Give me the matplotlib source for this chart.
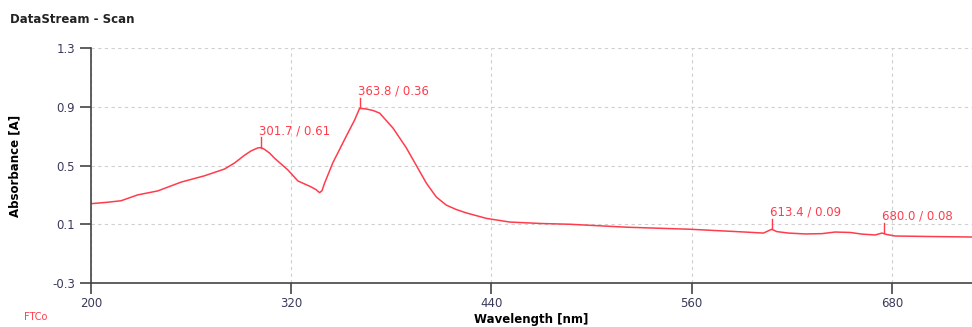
import numpy as np
import matplotlib
matplotlib.use('Agg')
import matplotlib.pyplot as plt

# spectrum
wl = [200, 210, 218, 228, 240, 254, 268, 280, 286, 292, 296, 300, 302, 304, 307,
      310, 318, 324, 332, 335, 337, 338.5, 340, 345, 353, 358, 361, 365, 369, 373,
      381, 389, 395, 401, 407, 413, 419, 425, 437, 451, 470, 487, 521, 559, 578,
      592, 603, 608, 611, 618, 628, 638, 646, 655, 662, 670, 674, 677, 682, 700,
      728]
absb = [0.24, 0.25, 0.26, 0.30, 0.327, 0.387, 0.43, 0.476, 0.517, 0.57, 0.60,
        0.62, 0.622, 0.61, 0.585, 0.55, 0.47, 0.395, 0.354, 0.335, 0.315, 0.33,
        0.38, 0.52, 0.70, 0.81, 0.89, 0.885, 0.875, 0.857, 0.755, 0.62, 0.50, 0.38,
        0.285, 0.23, 0.20, 0.177, 0.14, 0.115, 0.105, 0.10, 0.08, 0.066, 0.055,
        0.047, 0.04, 0.066, 0.05, 0.04, 0.034, 0.036, 0.047, 0.044, 0.033, 0.027,
        0.04, 0.03, 0.02, 0.017, 0.013]

peak_wl = [301.7, 361, 608, 675]
peak_abs = [0.622, 0.89, 0.066, 0.04]
peak_txt = ['301.7 / 0.61', '363.8 / 0.36', '613.4 / 0.09', '680.0 / 0.08']

xticks = [200, 320, 440, 560, 680]
yticks = [-0.3, 0.1, 0.5, 0.9, 1.3]

red = '#ff3c4c'
fig = plt.figure(figsize=(9.72, 3.27), dpi=100)
ax = fig.add_axes([0.0936, 0.1346, 0.9064, 0.7184])

ax.plot(wl, absb, color=red, lw=1.1)
for x, y, t in zip(peak_wl, peak_abs, peak_txt):
    ax.plot([x, x], [y, y + 0.07], color=red, lw=1)
    ax.text(x - 1, y + 0.07, t, color=red, fontsize=8.5, va='bottom', ha='left')

ax.set_xlim(200, 728)
ax.set_ylim(-0.3, 1.3)
ax.set_xticks(xticks)
ax.set_yticks(yticks)
ax.set_yticklabels(['-0.3', '0.1', '0.5', '0.9', '1.3'])
ax.grid(True, ls=(0, (3, 3)), color='#d0d0d0', lw=0.8)
for s in ['top', 'right']:
    ax.spines[s].set_visible(False)
for s in ['left', 'bottom']:
    ax.spines[s].set_color('#444444')
    ax.spines[s].set_linewidth(1.2)
ax.tick_params(axis='both', length=8, width=1.2, color='#444444',
               labelsize=8.5, labelcolor='#3a3a5a')
ax.tick_params(axis='x', pad=2)

ax.set_xlabel('Wavelength [nm]', fontsize=8.5, fontweight='bold', labelpad=2)
ax.set_ylabel('Absorbance [A]', fontsize=8.5, fontweight='bold', labelpad=22)

fig.text(0.01, 0.93, 'DataStream - Scan', fontsize=8.5, fontweight='bold', color='#222222')
fig.text(0.025, 0.02, 'FTCo', fontsize=7, color=red)

fig.savefig('out.png', dpi=100)
